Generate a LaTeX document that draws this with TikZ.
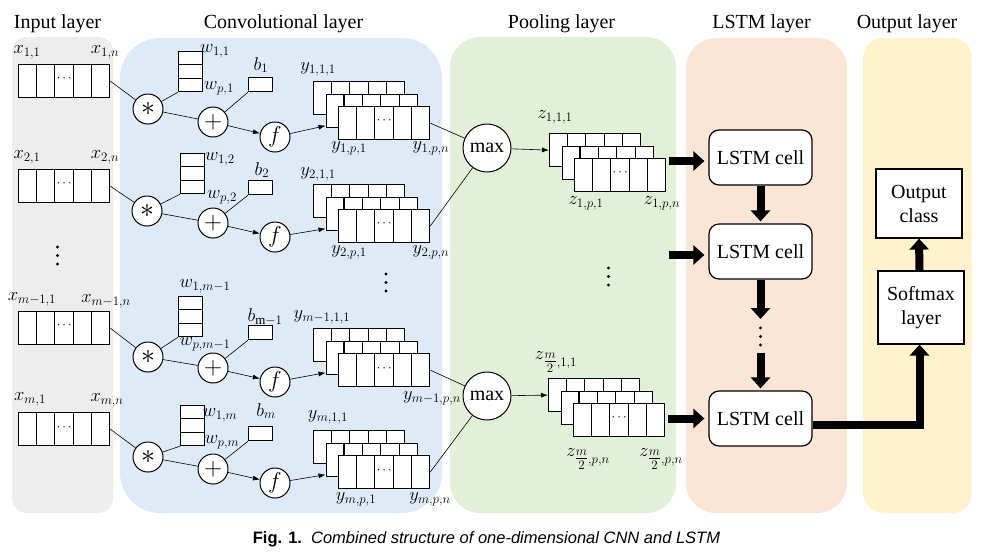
\RequirePackage{fix-cm}
\documentclass[tikz,border=0pt]{standalone}
\usepackage{fontspec}
\setmainfont{Liberation Serif}
\setsansfont{Liberation Sans}
\usetikzlibrary{calc,arrows.meta}
\definecolor{inputc}{RGB}{237,237,237}
\definecolor{convc}{RGB}{222,235,247}
\definecolor{poolc}{RGB}{226,240,217}
\definecolor{lstmc}{RGB}{251,229,214}
\definecolor{outc}{RGB}{255,242,204}
\tikzset{
  lbl/.style={inner sep=0pt, font=\fontsize{18.5}{18.5}\selectfont},
  ttl/.style={inner sep=0pt, anchor=base, font=\fontsize{20}{20}\selectfont},
  rowbox/.style={draw, line width=1.2pt, fill=white, minimum width=91pt, minimum height=33pt, inner sep=0pt, anchor=north west},
  wbox/.style={draw, line width=1.2pt, fill=white, minimum width=24pt, minimum height=40pt, inner sep=0pt, anchor=north west},
  biasbox/.style={draw, line width=1.2pt, fill=white, minimum width=24pt, minimum height=14pt, inner sep=0pt, anchor=north west},
  opnode/.style={circle, draw, line width=1pt, fill=white, minimum size=30pt, inner sep=0pt, font=\fontsize{20}{20}\selectfont},
  maxnode/.style={opnode, minimum size=48pt},
  conn/.style={line width=0.6pt},
  connarr/.style={conn, -{Latex[length=7pt,width=5pt]}},
  bigarrow/.style={line width=8pt, -{Triangle[length=11pt,width=19pt]}},
  bigline/.style={line width=8pt, line join=miter},
  lstmbox/.style={draw, line width=1.2pt, fill=white, rounded corners=10pt, minimum width=103pt, minimum height=55pt, inner sep=0pt, font=\fontsize{20}{20}\selectfont},
  obox/.style={draw, line width=1.2pt, fill=white, minimum width=86pt, inner sep=0pt, align=center, font=\fontsize{20}{24}\selectfont},
  dotn/.style={circle, fill=black, inner sep=0pt, minimum size=3.4pt},
  dotsn/.style={inner sep=0pt, font=\fontsize{13}{13}\selectfont},
}
\newcommand{\myrow}[3]{%
  \node[rowbox] (#1) at (#2,#3) {};
  \foreach \k in {1,2,3,4}{\draw[line width=1.2pt] ($(#1.north west)!\k/5!(#1.north east)$) -- ($(#1.south west)!\k/5!(#1.south east)$);}
}
\newcommand{\mydots}[1]{\node[dotsn] (#1d) at ($(#1.center)+(0,-2)$) {$\cdots$};}
\newcommand{\mystack}[3]{%
  \myrow{#1a}{#2}{#3}
  \myrow{#1b}{#2+12.5}{#3+12.5}
  \myrow{#1c}{#2+25}{#3+25}
  \mydots{#1c}
}
\newcommand{\wcol}[3]{%
  \node[wbox] (#1) at (#2,#3) {};
  \foreach \k in {1,2}{\draw[line width=1.2pt] ($(#1.north west)!\k/3!(#1.south west)$) -- ($(#1.north east)!\k/3!(#1.south east)$);}
}
\newcommand{\vdotsat}[3]{%
  \node[dotn] (#1a) at (#2,#3-8.5) {};
  \node[dotn] (#1b) at (#2,#3) {};
  \node[dotn] (#1c) at (#2,#3+8.5) {};
}
\newcommand{\halfm}{{\textstyle\frac{m}{2}}}
\newcommand{\staropnd}{{\fontsize{28}{28}\selectfont$\ast$}}
\newcommand{\plusopnd}{{\fontsize{25}{25}\selectfont$+$}}
\newcommand{\fopnd}{{\fontsize{23}{23}\selectfont$f$}}
\begin{document}
\begin{tikzpicture}[x=1pt,y=-1pt]
\useasboundingbox (0,0) rectangle (987,558);
% panels
\fill[inputc] (12,37) [rounded corners=15pt] rectangle (113,513);
\fill[convc] (120,38) [rounded corners=40pt] rectangle (442,513);
\fill[poolc] (450,37) [rounded corners=30pt] rectangle (676,513);
\fill[lstmc] (686,38) [rounded corners=30pt] rectangle (847,513);
\fill[outc] (863,38) [rounded corners=20pt] rectangle (972,513);
% titles
\node[ttl] (t1) at (57.5,28) {Input layer};
\node[ttl] (t2) at (283.5,28) {Convolutional layer};
\node[ttl] (t3) at (561.5,28) {Pooling layer};
\node[ttl] (t4) at (761.5,28) {LSTM layer};
\node[ttl] (t5) at (907,28) {Output layer};
% input arrays
\myrow{in1}{18}{64} \mydots{in1}
\myrow{in2}{18}{169} \mydots{in2}
\myrow{in3}{18}{311} \mydots{in3}
\myrow{in4}{18}{412} \mydots{in4}
\node[lbl] (lx1a) at (27,52) {$x_{1,1}$};
\node[lbl] (lx1b) at (105,52) {$x_{1,n}$};
\node[lbl] (lx2a) at (27,157) {$x_{2,1}$};
\node[lbl] (lx2b) at (105,157) {$x_{2,n}$};
\node[lbl] (lx3a) at (32,299) {$x_{m-1,1}$};
\node[lbl] (lx3b) at (106,301) {$x_{m-1,n}$};
\node[lbl] (lx4a) at (30,399) {$x_{m,1}$};
\node[lbl] (lx4b) at (107,400) {$x_{m,n}$};
\vdotsat{vin}{57.5}{255.5}
% weights and biases
\wcol{w1}{178}{51}
\wcol{w2}{180}{153}
\wcol{w3}{178}{296}
\wcol{w4}{180}{405}
\node[biasbox] (b1) at (248,77) {};
\node[biasbox] (b2) at (248,180) {};
\node[biasbox] (b3) at (248,325) {};
\node[biasbox] (b4) at (248,426) {};
\node[lbl] (lw1a) at (215,51) {$w_{1,1}$};
\node[lbl] (lw1b) at (219,88) {$w_{p,1}$};
\node[lbl] (lb1) at (261,65) {$b_{1}$};
\node[lbl] (lw2a) at (220,159) {$w_{1,2}$};
\node[lbl] (lw2b) at (222,197) {$w_{p,2}$};
\node[lbl] (lb2) at (262,170) {$b_{2}$};
\node[lbl] (lw3a) at (205,286) {$w_{1,m-1}$};
\node[lbl] (lw3b) at (205,344) {$w_{p,m-1}$};
\node[lbl] (lb3) at (265,317) {$b_{\mathrm{m}-1}$};
\node[lbl] (lw4a) at (220,415) {$w_{1,m}$};
\node[lbl] (lw4b) at (222,442) {$w_{p,m}$};
\node[lbl] (lb4) at (266,411) {$b_{m}$};
% operators
\node[opnode] (st1) at (148,109) {\staropnd};
\node[opnode] (pl1) at (213,122) {\plusopnd};
\node[opnode] (f1) at (275,137) {\fopnd};
\node[opnode] (st2) at (147,211) {\staropnd};
\node[opnode] (pl2) at (213,223) {\plusopnd};
\node[opnode] (f2) at (275,237) {\fopnd};
\node[opnode] (st3) at (148,357) {\staropnd};
\node[opnode] (pl3) at (213,368) {\plusopnd};
\node[opnode] (f3) at (275,382) {\fopnd};
\node[opnode] (st4) at (148,457) {\staropnd};
\node[opnode] (pl4) at (213,469) {\plusopnd};
\node[opnode] (f4) at (275,483) {\fopnd};
% feature map stacks
\mystack{ya}{313}{81}
\mystack{yb}{313}{184}
\mystack{yc}{313}{328}
\mystack{yd}{313}{430}
\node[lbl] (ly1a) at (318,69) {$y_{1,1,1}$};
\node[lbl] (ly1b) at (349,148) {$y_{1,p,1}$};
\node[lbl] (ly1c) at (431,148) {$y_{1,p,n}$};
\node[lbl] (ly2a) at (318,174) {$y_{2,1,1}$};
\node[lbl] (ly2b) at (349,252) {$y_{2,p,1}$};
\node[lbl] (ly2c) at (431,252) {$y_{2,p,n}$};
\node[lbl] (ly3a) at (322,317) {$y_{m-1,1,1}$};
\node[lbl] (ly3c) at (432,398) {$y_{m-1,p,n}$};
\node[lbl] (ly4a) at (328,417) {$y_{m,1,1}$};
\node[lbl] (ly4b) at (356,499) {$y_{m,p,1}$};
\node[lbl] (ly4c) at (430,499) {$y_{m,p,n}$};
\vdotsat{vconv}{386}{282.5}
% pooling
\node[maxnode] (mx1) at (487,148) {max};
\node[maxnode] (mx2) at (487,396) {max};
\mystack{za}{549}{133}
\mystack{zb}{548}{378}
\node[lbl] (lz1a) at (555,117) {$z_{1,1,1}$};
\node[lbl] (lz1b) at (586,203) {$z_{1,p,1}$};
\node[lbl] (lz1c) at (662,203) {$z_{1,p,n}$};
\node[lbl] (lz2a) at (556,362) {$z_{\halfm,1,1}$};
\node[lbl] (lz2b) at (588,459) {$z_{\halfm,p,n}$};
\node[lbl] (lz2c) at (661,459) {$z_{\halfm,p,n}$};
\vdotsat{vpool}{608.5}{276.5}
% LSTM
\node[lstmbox] (c1) at (760.5,157.5) {LSTM cell};
\node[lstmbox] (c2) at (760.5,251.5) {LSTM cell};
\node[lstmbox] (c3) at (760.5,418.5) {LSTM cell};
\vdotsat{vlstm}{760.5}{336.5}
\coordinate (dA) at (760.5,319);
\coordinate (dB) at (760.5,353);
% output
\node[obox, minimum height=69pt] (oc) at (919,203.5) {Output\\class};
\node[obox, minimum height=73pt] (sm) at (921,307.5) {Softmax\\layer};
% thin connectors
\foreach \i in {1,2,3,4}{
  \draw[conn] (in\i.east) -- (st\i);
  \draw[conn] (w\i.south west) -- (st\i);
  \draw[conn] (st\i) -- (pl\i);
  \draw[conn] (b\i.south west) -- (pl\i);
  \draw[connarr] (pl\i) -- (f\i);
}
\draw[connarr] (f1) -- ($(yab.south west)+(0,-2)$);
\draw[connarr] (f2) -- ($(ybb.south west)+(0,-2)$);
\draw[connarr] (f3) -- ($(ycb.south west)+(0,-2)$);
\draw[connarr] (f4) -- ($(ydb.south west)+(0,-2)$);
\draw[conn] (yac.east) -- (mx1);
\draw[conn] (ybc.east) -- (mx1);
\draw[conn] (ycc.east) -- (mx2);
\draw[conn] (ydc.east) -- (mx2);
\draw[connarr] (mx1) -- (zaa.west);
\draw[connarr] (mx2) -- (zba.west);
% thick arrows
\draw[bigarrow] ($(zac.east |- c1.west)+(3,3.5)$) -- ($(c1.west)+(-4,3.5)$);
\draw[bigarrow] ($(zac.east |- c2.west)+(3,3.5)$) -- ($(c2.west)+(-4,3.5)$);
\draw[bigarrow] ($(zbc.east |- c3.west)+(3,0)$) -- ($(c3.west)+(-4,0)$);
\draw[bigarrow] (c1.south) -- ($(c2.north)+(0,-2)$);
\draw[bigarrow] (c2.south) -- (dA);
\draw[bigarrow] (dB) -- ($(c3.north)+(0,-2)$);
\draw[bigline] ($(c3.east)+(0,6.5)$) -| ($(sm.south)+(-1.5,8)$);
\draw[bigarrow] ($(sm.south)+(-1.5,9)$) -- ($(sm.south)+(-1.5,0)$);
\draw[bigarrow] ($(sm.north)+(-1.5,0)$) -- (oc.south);
% caption
\node[inner sep=0pt, anchor=base, font=\sffamily\fontsize{16.5}{16.5}\selectfont] (cap) at (486.5,543) {\textbf{Fig. 1.}\hspace{0.55em}\textit{Combined structure of one-dimensional CNN and LSTM}};
\end{tikzpicture}
\end{document}
